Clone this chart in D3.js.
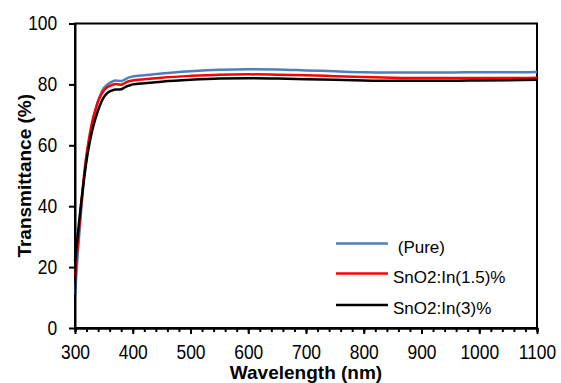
<!DOCTYPE html>
<html>
<head>
<meta charset="utf-8">
<script src="https://cdn.jsdelivr.net/npm/d3@7"></script>
<style>
  body { margin: 0; background: #fff; }
  text { font-family: "Liberation Sans", Arial, sans-serif; fill: #000; }
</style>
</head>
<body>
<div id="chart-area"></div>
<script>
/* data */
const wavelengths = [300, 305, 310, 315, 320, 325, 330, 335, 340, 345, 350, 355, 360, 365, 370, 375, 380, 385, 390, 395, 400,
  420, 450, 500, 550, 600, 650, 700, 750, 800, 850, 900, 950, 1000, 1050, 1100]

const purePct = [11, 25, 37, 48, 56, 62, 67, 71, 74.5, 77, 78.8, 79.8, 80.5, 81, 81.3, 81.2, 81.1, 81.5, 82, 82.4, 82.6,
  83, 83.6, 84.3, 84.8, 85, 84.9, 84.6, 84.3, 84, 83.9, 83.9, 83.9, 84, 84, 84.1]

const in15Pct = [17, 28, 39, 49, 57, 63, 68, 71.5, 74.5, 76.5, 78, 79, 79.5, 79.9, 80.1, 80, 79.9, 80.3, 80.8, 81.1, 81.3,
  81.7, 82.2, 82.8, 83.2, 83.3, 83.2, 83, 82.7, 82.4, 82.2, 82.1, 82.1, 82.1, 82.1, 82.2]

const in3Pct = [22, 31, 40, 48, 55, 60.5, 65, 68.5, 71.5, 74, 75.8, 77, 77.7, 78.1, 78.3, 78.3, 78.4, 78.9, 79.4, 79.7, 80,
  80.4, 80.9, 81.5, 81.9, 82, 81.9, 81.7, 81.5, 81.3, 81.2, 81.2, 81.2, 81.3, 81.4, 81.5]

const seriesNames = [' (Pure)', 'SnO2:In(1.5)%', 'SnO2:In(3)%']
const seriesColors = ['#4f7fba', '#ff0000', '#000000']
const xTicks = [300, 400, 500, 600, 700, 800, 900, 1000, 1100]
const yTicks = [0, 20, 40, 60, 80, 100]

const allSeries = [purePct, in15Pct, in3Pct].map((vals, i) => ({
  name: seriesNames[i],
  color: seriesColors[i],
  points: wavelengths.map((w, j) => ({ x: w, y: vals[j] }))
}))

/* Canvas */
const CANVAS_WIDTH = 561
const CANVAS_HEIGHT = 383
const plot = { left: 75, right: 537, top: 23.5, bottom: 328 }

const $svg = d3.select('#chart-area')
  .append('svg')
  .attr('width', CANVAS_WIDTH)
  .attr('height', CANVAS_HEIGHT)

/* Scales */
const xScale = d3.scaleLinear().domain([300, 1100]).range([plot.left, plot.right])
const yScale = d3.scaleLinear().domain([0, 100]).range([plot.bottom, plot.top])

/* Frame */
$svg.append('rect')
  .attr('x', plot.left)
  .attr('y', plot.top)
  .attr('width', plot.right - plot.left)
  .attr('height', plot.bottom - plot.top)
  .attr('fill', 'none')
  .attr('stroke', '#000')
  .attr('stroke-width', 2)

/* Lines */
const line = d3.line()
  .x(d => xScale(d.x))
  .y(d => yScale(d.y))
  .curve(d3.curveMonotoneX)

$svg.append('g').selectAll('path')
  .data(allSeries)
  .enter()
  .append('path')
  .attr('d', d => line(d.points))
  .attr('fill', 'none')
  .attr('stroke', d => d.color)
  .attr('stroke-width', 2.5)

/* Axes */
const minorAxis = d3.axisBottom(xScale)
  .tickValues(d3.range(300, 1101, 20))
  .tickSize(4)
  .tickFormat('')

const xAxis = d3.axisBottom(xScale)
  .tickValues(xTicks)
  .tickSize(6)
  .tickSizeOuter(0)
  .tickFormat(d3.format('d'))

const yAxis = d3.axisLeft(yScale)
  .tickValues(yTicks)
  .tickSize(6)
  .tickSizeOuter(0)
  .tickFormat(d3.format('d'))

$svg.append('g')
  .attr('transform', `translate(0, ${plot.bottom})`)
  .call(minorAxis)

const $xAxisGroup = $svg.append('g')
  .attr('transform', `translate(0, ${plot.bottom})`)
  .call(xAxis)

const $yAxisGroup = $svg.append('g')
  .attr('transform', `translate(${plot.left}, 0)`)
  .call(yAxis)

$svg.selectAll('.domain, .tick line')
  .attr('stroke', '#000')
  .attr('stroke-width', 2)

$xAxisGroup.selectAll('text')
  .attr('font-size', 20)
  .attr('font-family', null)
  .attr('y', 16.5)
  .attr('transform', 'scale(0.87,1)')

$yAxisGroup.selectAll('text')
  .attr('font-size', 20)
  .attr('font-family', null)
  .attr('x', -20.5)
  .attr('transform', 'scale(0.87,1)')

/* Axis labels */
$svg.append('text')
  .attr('x', (plot.left + plot.right) / 2)
  .attr('y', 379)
  .attr('text-anchor', 'middle')
  .attr('font-size', 19)
  .attr('font-weight', 'bold')
  .text('Wavelength (nm)')

$svg.append('text')
  .attr('transform', `translate(31, ${(plot.top + plot.bottom) / 2}) rotate(-90)`)
  .attr('text-anchor', 'middle')
  .attr('font-size', 19)
  .attr('font-weight', 'bold')
  .text('Transmittance (%)')

/* Legend */
const legendY = [243.5, 273.5, 305]
const $legend = $svg.append('g')

$legend.selectAll('line')
  .data(allSeries)
  .enter()
  .append('line')
  .attr('x1', 336)
  .attr('x2', 388)
  .attr('y1', (d, i) => legendY[i])
  .attr('y2', (d, i) => legendY[i])
  .attr('stroke', d => d.color)
  .attr('stroke-width', 2.5)

$legend.selectAll('text')
  .data(allSeries)
  .enter()
  .append('text')
  .attr('x', 393)
  .attr('y', (d, i) => legendY[i] + 9)
  .attr('font-size', 17)
  .attr('xml:space', 'preserve')
  .style('white-space', 'pre')
  .text(d => d.name)
</script>
</body>
</html>
